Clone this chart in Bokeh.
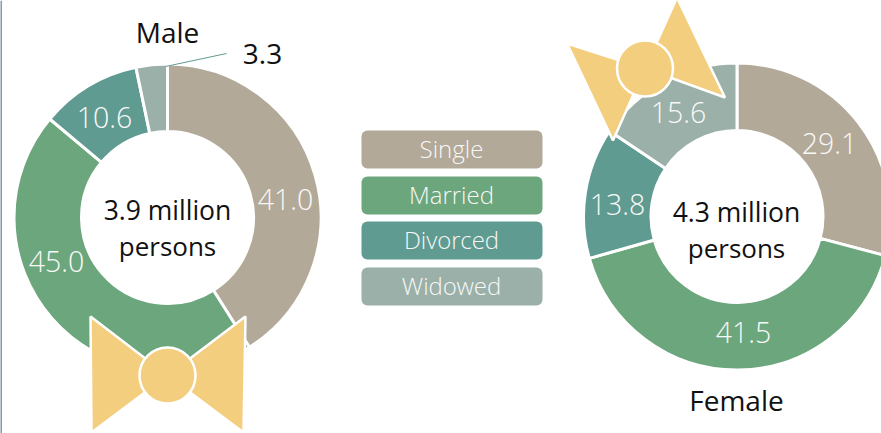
import math
from bokeh.plotting import figure
from bokeh.models import ColumnDataSource, Range1d
from bokeh.core.properties import value
from bokeh.embed import file_html
from bokeh.resources import INLINE

categories = ["Single", "Married", "Divorced", "Widowed"]
male_values = [41.0, 45.0, 10.6, 3.3]
female_values = [29.1, 41.5, 13.8, 15.6]
colors = ["#B2A998", "#6CA67C", "#609B91", "#9AB0A9"]
male_labels = ["41.0", "45.0", "10.6", "3.3"]
female_labels = ["29.1", "41.5", "13.8", "15.6"]

W, H = 881, 433
SANS = value("Open Sans")
LIGHT = value("Open Sans Light")
BOW = "#F4CE7F"

p = figure(width=W, height=H, output_backend="svg", toolbar_location=None,
           x_range=Range1d(0, W), y_range=Range1d(H, 0), min_border=0,
           outline_line_color=None, background_fill_color="white")
p.axis.visible = False
p.grid.visible = False


def draw(cx, cy, vals):
    total = sum(vals)
    start, s_list, e_list = 90.0, [], []
    for v in vals:
        end = start - 360.0 * v / total
        s_list.append(math.radians(start))
        e_list.append(math.radians(end))
        start = end
    src = ColumnDataSource(dict(x=[cx] * 4, y=[cy] * 4, s=s_list, e=e_list, c=colors))
    p.annular_wedge(x="x", y="y", inner_radius=86, outer_radius=153.5, inner_radius_units="screen",
                    outer_radius_units="screen", start_angle="s", end_angle="e", direction="clock",
                    fill_color="c", line_color="white", line_width=3, source=src)


draw(167, 217, male_values)
draw(736.5, 216, female_values)

p.segment([0.5], [0], [0.5], [H], line_color="#7F9CA8", line_width=2)
p.line([165, 226], [66, 53], line_color="#609B91", line_width=1)


def txt(x, y, s, size, color="#111111", font=SANS):
    p.text([x], [y], text=[s], text_font=font, text_font_size=f"{size}px", text_color=color,
           text_align="center", text_baseline="middle")


def bow(cx, cy, wings):
    for w in wings:
        xs = [cx + w[0][0], cx, cx + w[1][0]]
        ys = [cy + w[0][1], cy, cy + w[1][1]]
        p.patch(xs, ys, fill_color=BOW, line_color="white", line_width=2.5)
    p.scatter([cx], [cy], size=56, marker="circle", fill_color=BOW, line_color="white", line_width=2.5)


bow(167, 375, [((-77, -59), (-76, 57)), ((78, -59), (76, 57))])
bow(644.5, 68, [((-78, -25), (-32, 72)), ((32, -71), (80, 29))])

positions_male = [(285, 199), (56, 261), (104, 117)]
positions_female = [(829, 143), (743, 332), (617, 204), (678, 112)]
for (x, y), s in zip(positions_male, male_labels[:3]):
    txt(x, y, s, 28.5, "#F8F8F8", LIGHT)
txt(262, 53, male_labels[3], 28)
for (x, y), s in zip(positions_female, female_labels):
    txt(x, y, s, 28.5, "#F8F8F8", LIGHT)

txt(167, 31, "Male", 28)
txt(736, 399, "Female", 28)
txt(167, 209, "3.9 million", 26.5)
txt(167, 245, "persons", 26)
txt(736, 211, "4.3 million", 26.5)
txt(736, 247, "persons", 26)

ly = [149, 195, 240, 286]
p.quad(left=[361] * 4, right=[542] * 4,
       top=[y - 19 for y in ly], bottom=[y + 19 for y in ly],
       fill_color=colors, line_color=None, border_radius=6)
for y, c in zip(ly, categories):
    txt(451, y - 1, c, 24, "#F8F8F8", LIGHT)

open("out.html", "w").write(file_html(p, INLINE))
